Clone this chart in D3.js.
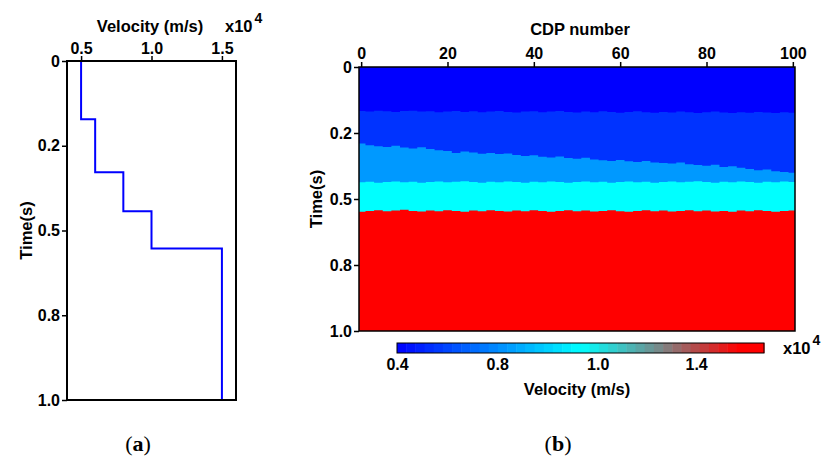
<!DOCTYPE html>
<html>
<head>
<meta charset="utf-8">
<title>Velocity model</title>
<script src="https://d3js.org/d3.v7.min.js"></script>
<style>
body { margin: 0; background: #fff; font-family: "Liberation Sans", Arial, sans-serif; }
.tick text { font-weight: bold; font-size: 16px; fill: #000; }
.lbl { font-weight: bold; font-size: 16.5px; }
.cap { font-family: "Liberation Serif", "DejaVu Serif", serif; font-size: 22px; }
</style>
</head>
<body>
<div id="chart"></div>
<script>
// (a) 1-D velocity profile, velocity in 1e4 m/s, time in s
var profileVel = [0.5, 0.6, 0.8, 1.0, 1.5];
var profileTop = [0, 0.172, 0.328, 0.443, 0.553];
var timeTicks = [0, 0.25, 0.5, 0.75, 1.0];
var timeLabels = ["0", "0.2", "0.5", "0.8", "1.0"];
var velTicks = [0.5, 1.0, 1.5];
var velLabels = ["0.5", "1.0", "1.5"];

// (b) layered section, boundaries every 2 CDPs
var cdpTicks = [0, 20, 40, 60, 80, 100];
var cdpStep = 2;
var layerVel = [0.5, 0.6, 0.8, 1.0, 1.5];
var bound1 = [0.167,0.169,0.166,0.168,0.170,0.167,0.166,0.169,0.168,0.171,
  0.169,0.167,0.170,0.168,0.171,0.169,0.167,0.170,0.172,0.169,
  0.168,0.171,0.169,0.167,0.170,0.172,0.169,0.171,0.168,0.170,
  0.173,0.170,0.168,0.171,0.173,0.170,0.172,0.169,0.171,0.174,
  0.171,0.169,0.172,0.174,0.171,0.173,0.170,0.172,0.174,0.171,0.173];
var bound2 = [0.290,0.296,0.300,0.303,0.298,0.305,0.309,0.304,0.311,0.315,
  0.318,0.326,0.320,0.324,0.329,0.326,0.330,0.328,0.333,0.337,
  0.334,0.340,0.343,0.339,0.345,0.348,0.344,0.350,0.353,0.356,
  0.352,0.357,0.360,0.356,0.362,0.364,0.366,0.362,0.368,0.371,
  0.374,0.370,0.379,0.376,0.382,0.386,0.391,0.388,0.395,0.398,0.401];
var bound3 = [0.437,0.435,0.438,0.436,0.434,0.437,0.435,0.438,0.436,0.434,
  0.437,0.435,0.433,0.436,0.438,0.435,0.437,0.434,0.436,0.438,
  0.435,0.437,0.434,0.436,0.438,0.436,0.434,0.437,0.435,0.438,
  0.436,0.434,0.437,0.435,0.438,0.436,0.434,0.437,0.435,0.433,
  0.436,0.438,0.435,0.437,0.434,0.436,0.438,0.435,0.437,0.434,0.436];
var bound4 = [0.548,0.545,0.543,0.546,0.544,0.541,0.545,0.547,0.544,0.546,
  0.543,0.545,0.548,0.544,0.546,0.543,0.545,0.547,0.544,0.546,
  0.543,0.545,0.548,0.545,0.543,0.546,0.544,0.547,0.545,0.543,
  0.546,0.548,0.545,0.543,0.546,0.544,0.547,0.545,0.543,0.546,
  0.544,0.547,0.545,0.548,0.544,0.546,0.543,0.545,0.548,0.545,0.544];

// colour bar
var cmapStops = [0.5, 1.0, 1.23, 1.43, 1.5];
var cmapColors = ["#0000ff", "#00ffff", "#808080", "#ff0000", "#ff0000"];
var cbTicks = [0.5, 0.773, 1.047, 1.315];
var cbLabels = ["0.4", "0.8", "1.0", "1.4"];
var cbBands = 40;

var W = 828, H = 459;
var svg = d3.select("#chart").append("svg")
    .attr("width", W).attr("height", H);

var cmap = d3.scaleLinear().domain(cmapStops).range(cmapColors).clamp(true);

// ---------- panel (a) ----------
var xA = d3.scaleLinear().domain([0.4, 1.6]).range([67, 236]);
var yA = d3.scaleLinear().domain([0, 1]).range([61, 400]);

var pts = [];
profileVel.forEach(function(v, i) {
    var t0 = profileTop[i];
    var t1 = i < profileTop.length - 1 ? profileTop[i + 1] : 1;
    pts.push([v, t0]);
    pts.push([v, t1]);
});
var line = d3.line().x(function(d) { return xA(d[0]); }).y(function(d) { return yA(d[1]); });

svg.append("path").datum(pts)
    .attr("d", line)
    .attr("fill", "none")
    .attr("stroke", "#0000ff")
    .attr("stroke-width", 2);

svg.append("rect")
    .attr("x", xA.range()[0]).attr("y", yA.range()[0])
    .attr("width", xA.range()[1] - xA.range()[0])
    .attr("height", yA.range()[1] - yA.range()[0])
    .attr("fill", "none").attr("stroke", "#000").attr("stroke-width", 2);

var axA = svg.append("g").attr("transform", "translate(0," + yA.range()[0] + ")")
    .call(d3.axisTop(xA).tickValues(velTicks).tickSize(5).tickPadding(2)
        .tickFormat(function(d, i) { return velLabels[i]; }));
var ayA = svg.append("g").attr("transform", "translate(" + xA.range()[0] + ",0)")
    .call(d3.axisLeft(yA).tickValues(timeTicks).tickSize(5).tickPadding(2)
        .tickFormat(function(d, i) { return timeLabels[i]; }));
[axA, ayA].forEach(function(g) {
    g.select(".domain").remove();
    g.selectAll(".tick line").attr("stroke-width", 1.5);
});

svg.append("text").attr("class", "lbl")
    .attr("x", 150).attr("y", 32).attr("text-anchor", "middle")
    .text("Velocity (m/s)");
var sa = svg.append("text").attr("class", "lbl").attr("x", 225).attr("y", 32);
sa.append("tspan").text("x10");
sa.append("tspan").attr("dx", 2).attr("dy", -9).attr("font-size", 14).text("4");

svg.append("text").attr("class", "lbl")
    .attr("transform", "translate(32," + d3.mean(yA.range()) + ") rotate(-90)")
    .attr("text-anchor", "middle")
    .text("Time(s)");

svg.append("text").attr("class", "cap")
    .attr("x", 138).attr("y", 451).attr("text-anchor", "middle")
    .html("(<tspan font-weight='bold'>a</tspan>)");

// ---------- panel (b) ----------
var xB = d3.scaleLinear().domain([-0.5, 100.5]).range([359, 795]);
var yB = d3.scaleLinear().domain([0, 1]).range([67, 331]);

svg.append("clipPath").attr("id", "clipB").append("rect")
    .attr("x", xB.range()[0]).attr("y", yB.range()[0])
    .attr("width", xB.range()[1] - xB.range()[0])
    .attr("height", yB.range()[1] - yB.range()[0]);

var gB = svg.append("g").attr("clip-path", "url(#clipB)");

// deepest layer fills the whole box, shallower layers painted over it
gB.append("rect")
    .attr("x", xB.range()[0]).attr("y", yB.range()[0])
    .attr("width", xB.range()[1] - xB.range()[0])
    .attr("height", yB.range()[1] - yB.range()[0])
    .attr("fill", cmap(layerVel[4]));

var bounds = [bound1, bound2, bound3, bound4];
var area = d3.area()
    .curve(d3.curveStepAfter)
    .x(function(d) { return xB(d[0]); })
    .y0(yB(0))
    .y1(function(d) { return yB(d[1]); });

for (var k = 3; k >= 0; k--) {
    var b = bounds[k];
    var ap = b.map(function(t, i) { return [i * cdpStep - cdpStep / 2, t]; });
    ap.push([(b.length - 1) * cdpStep + cdpStep / 2, b[b.length - 1]]);
    gB.append("path").datum(ap)
        .attr("d", area)
        .attr("fill", cmap(layerVel[k]));
}

svg.append("rect")
    .attr("x", xB.range()[0]).attr("y", yB.range()[0])
    .attr("width", xB.range()[1] - xB.range()[0])
    .attr("height", yB.range()[1] - yB.range()[0])
    .attr("fill", "none").attr("stroke", "#000").attr("stroke-width", 1.5);

var axB = svg.append("g").attr("transform", "translate(0," + yB.range()[0] + ")")
    .call(d3.axisTop(xB).tickValues(cdpTicks).tickSize(5).tickPadding(3));
var ayB = svg.append("g").attr("transform", "translate(" + xB.range()[0] + ",0)")
    .call(d3.axisLeft(yB).tickValues(timeTicks).tickSize(5).tickPadding(2)
        .tickFormat(function(d, i) { return timeLabels[i]; }));
[axB, ayB].forEach(function(g) {
    g.select(".domain").remove();
    g.selectAll(".tick line").attr("stroke-width", 1.5);
});

svg.append("text").attr("class", "lbl")
    .attr("x", 580).attr("y", 35).attr("text-anchor", "middle")
    .attr("font-size", 17)
    .text("CDP number");
svg.append("text").attr("class", "lbl")
    .attr("transform", "translate(322," + d3.mean(yB.range()) + ") rotate(-90)")
    .attr("text-anchor", "middle")
    .text("Time(s)");

// colour bar
var xC = d3.scaleLinear().domain([0.5, 1.5]).range([397, 764]);
var cbY = 343, cbH = 10;
var bw = (xC.domain()[1] - xC.domain()[0]) / cbBands;
var bandVals = d3.range(cbBands).map(function(i) { return xC.domain()[0] + i * bw; });
svg.append("g").selectAll("rect").data(bandVals).join("rect")
    .attr("x", function(d) { return xC(d); })
    .attr("y", cbY)
    .attr("width", function(d) { return xC(d + bw) - xC(d) + 0.5; })
    .attr("height", cbH)
    .attr("fill", function(d) { return cmap(d + bw / 2); });
svg.append("rect")
    .attr("x", xC.range()[0]).attr("y", cbY)
    .attr("width", xC.range()[1] - xC.range()[0]).attr("height", cbH)
    .attr("fill", "none").attr("stroke", "#000").attr("stroke-width", 1);

var axC = svg.append("g").attr("transform", "translate(0," + (cbY + cbH) + ")")
    .call(d3.axisBottom(xC).tickValues(cbTicks).tickSize(0).tickPadding(6)
        .tickFormat(function(d, i) { return cbLabels[i]; }));
axC.select(".domain").remove();

var sb = svg.append("text").attr("class", "lbl").attr("x", 783).attr("y", 354);
sb.append("tspan").text("x10");
sb.append("tspan").attr("dx", 2).attr("dy", -9).attr("font-size", 14).text("4");

svg.append("text").attr("class", "lbl")
    .attr("x", 577).attr("y", 395).attr("text-anchor", "middle")
    .text("Velocity (m/s)");

svg.append("text").attr("class", "cap")
    .attr("x", 558).attr("y", 451).attr("text-anchor", "middle")
    .html("(<tspan font-weight='bold'>b</tspan>)");
</script>
</body>
</html>
